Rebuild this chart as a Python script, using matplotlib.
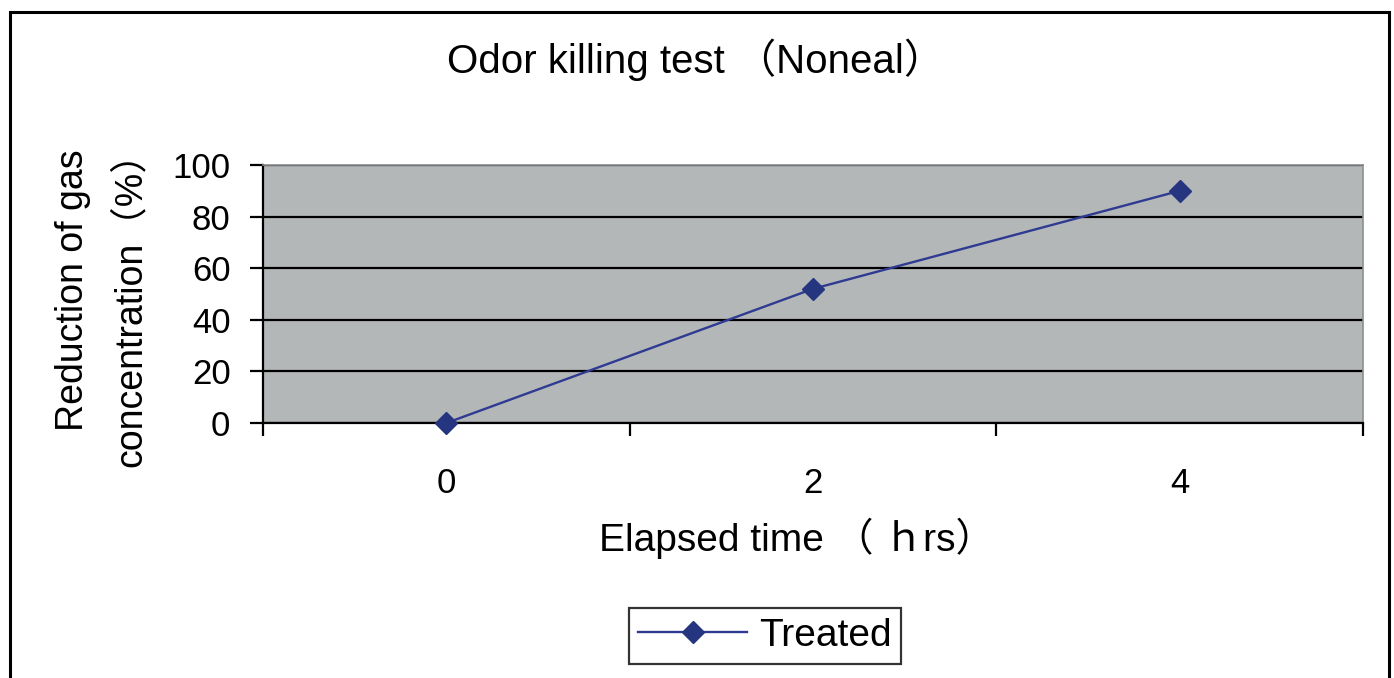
import matplotlib
matplotlib.use('Agg')
import matplotlib.pyplot as plt
from matplotlib.patches import Rectangle

plt.rcParams['font.family'] = ['Liberation Sans', 'Noto Sans CJK JP', 'DejaVu Sans']

categories = ['0', '2', '4']
treated = [0, 52, 90]
y_ticks = [0, 20, 40, 60, 80, 100]

W, H = 1394, 678
fig = plt.figure(figsize=(W / 100, H / 100), dpi=100)

# outer frame of the chart area (runs off the bottom)
fig.add_artist(Rectangle((10 / W, -0.05), 1379 / W, 1.05 - 12 / H,
                         transform=fig.transFigure, fill=False,
                         edgecolor='black', linewidth=2.2))

ax = fig.add_axes([263 / W, 1 - 423 / H, 1100 / W, 258 / H])
ax.set_facecolor('#b4b7b8')

x = list(range(len(categories)))
ax.plot(x, treated, color='#2f3b92', linewidth=1.7, marker='D',
        markersize=11, markerfacecolor='#263580', markeredgecolor='#263580',
        label='Treated', zorder=5, clip_on=False)

ax.set_xlim(-0.5, len(categories) - 0.5)
ax.set_ylim(0, 100)
ax.set_yticks(y_ticks)
ax.yaxis.grid(True, color='black', linewidth=1.6)
ax.set_axisbelow(True)

# category axis: tick marks between categories, labels at centres
ax.set_xticks([i - 0.5 for i in range(len(categories) + 1)])
ax.set_xticklabels([])
ax.set_xticks(x, minor=True)
ax.set_xticklabels(categories, minor=True)
ax.tick_params(axis='x', which='major', direction='out', length=9, width=1.6, color='black')
ax.tick_params(axis='x', which='minor', length=0, pad=32, labelsize=25)
ax.tick_params(axis='y', direction='out', length=9.4, width=1.6, labelsize=25, pad=14)

for side in ['top', 'right']:
    ax.spines[side].set_color('#8c8f90')
    ax.spines[side].set_linewidth(1.2)
for side in ['left', 'bottom']:
    ax.spines[side].set_color('black')
    ax.spines[side].set_linewidth(1.6)

fig.text(696 / W, 1 - 60 / H, 'Odor killing test （Noneal）', ha='center', va='center',
         fontsize=29)

fig.text(797 / W, 1 - 538 / H, 'Elapsed time （ ｈrs）', ha='center', va='center', fontsize=28)

fig.text(73 / W, 1 - 290 / H, 'Reduction of gas', ha='center', va='center',
         rotation=90, fontsize=27)
fig.text(131 / W, 1 - 300 / H, 'concentration（%）', ha='center', va='center',
         rotation=90, fontsize=27)

leg = ax.legend(loc='center', bbox_to_anchor=(765 / W, 1 - 636 / H),
                bbox_transform=fig.transFigure, fontsize=28, frameon=True,
                fancybox=False, edgecolor='black', handlelength=2.8,
                borderpad=0.25, handletextpad=0.3, borderaxespad=0)
leg.get_frame().set_linewidth(1.6)

fig.savefig('out.png', dpi=100)
